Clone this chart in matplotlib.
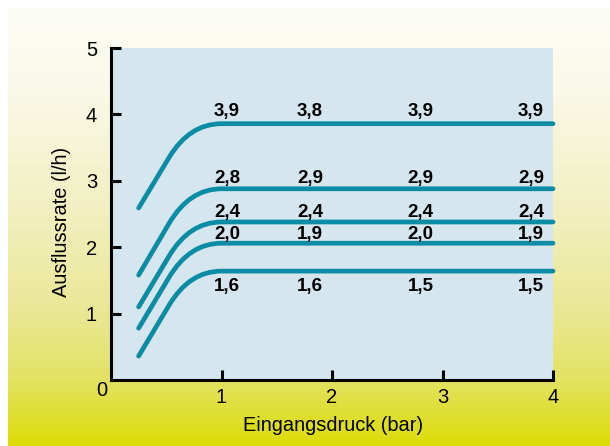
import numpy as np
import matplotlib
matplotlib.use('Agg')
import matplotlib.pyplot as plt
from matplotlib.path import Path
from matplotlib.patches import PathPatch
from matplotlib.colors import LinearSegmentedColormap

plt.rcParams['font.family'] = ['Liberation Sans', 'DejaVu Sans']

# ---- data ----
x_start = 0.25          # first measured inlet pressure (bar)
x_end = 4.0             # last inlet pressure (bar)
curve_start = [2.59, 1.58, 1.10, 0.78, 0.36]     # flow at x_start (l/h)
curve_plateau = [3.86, 2.88, 2.38, 2.06, 1.64]   # flow from ~1 bar on (l/h)
label_x = [1.05, 1.8, 2.8, 3.8]
labels = [
    ["3,9", "3,8", "3,9", "3,9"],
    ["2,8", "2,9", "2,9", "2,9"],
    ["2,4", "2,4", "2,4", "2,4"],
    ["2,0", "1,9", "2,0", "1,9"],
    ["1,6", "1,6", "1,5", "1,5"],
]
x_ticks = [1, 2, 3, 4]
y_ticks = [1, 2, 3, 4, 5]
x_label = "Eingangsdruck (bar)"
y_label = "Ausflussrate (l/h)"

# ---- style ----
W, H, DPI = 610, 446, 100
line_color = '#0a8ca4'
plot_bg = '#d6e6ee'
px = 72.0 / DPI

fig = plt.figure(figsize=(W / DPI, H / DPI), dpi=DPI)
fig.patch.set_facecolor('white')

# gradient background
bg = fig.add_axes([8 / W, 0, 1 - 8 / W, 1 - 8 / H])
bg.set_axis_off()
cmap = LinearSegmentedColormap.from_list('g', [
    (0.0, '#fdfdf8'), (0.2, '#faf8e6'), (0.45, '#f2f0c2'),
    (0.7, '#e9e794'), (0.85, '#e3e262'), (1.0, '#dcdc08')])
grad = np.linspace(0, 1, 256).reshape(-1, 1)
bg.imshow(grad, aspect='auto', cmap=cmap, extent=[0, 1, 0, 1], origin='upper')
bg.set_xlim(0, 1)
bg.set_ylim(0, 1)

ax = fig.add_axes([111 / W, 1 - 380 / H, (553 - 111) / W, (380 - 48) / H])
ax.set_facecolor(plot_bg)
ax.set_xlim(0, 4)
ax.set_ylim(0, 5)
for side in ['top', 'right']:
    ax.spines[side].set_visible(False)
for side in ['left', 'bottom']:
    ax.spines[side].set_linewidth(2.2)
    ax.spines[side].set_color('black')
ax.set_xticks(x_ticks)
ax.set_yticks(y_ticks)
ax.tick_params(axis='both', direction='in', length=10 * px, width=2.2,
               labelsize=14.5, colors='black')
ax.tick_params(axis='x', pad=6)
ax.tick_params(axis='y', pad=10)
ax.annotate('0', xy=(0, 0), xycoords='data', xytext=(-9 * px, -11 * px),
            textcoords='offset points', ha='center', va='center',
            fontsize=14.5, annotation_clip=False)

x_knee = 0.71
x_flat = 1.0
for s, p in zip(curve_start, curve_plateau):
    p0 = np.array([x_start, s])
    c = np.array([x_knee, p])
    e = p0 + 0.6 * (c - p0)
    verts = [tuple(p0), tuple(e), tuple(c), (x_flat, p), (x_end, p)]
    codes = [Path.MOVETO, Path.LINETO, Path.CURVE3, Path.CURVE3, Path.LINETO]
    patch = PathPatch(Path(verts, codes), fill=False, edgecolor=line_color,
                      lw=3.4, capstyle='round', joinstyle='round', clip_on=False,
                      zorder=3)
    ax.add_patch(patch)

row_offsets = [8, 6, 5, 4, -7]
for row, (p, off) in enumerate(zip(curve_plateau, row_offsets)):
    for xi, t in zip(label_x, labels[row]):
        ax.annotate(t, xy=(xi, p), xytext=(0, off * px), textcoords='offset points',
                    ha='center', va='baseline' if off > 0 else 'top',
                    fontsize=13.5, fontweight='bold', zorder=4)

fig.text(333 / W, 1 - 431 / H, x_label, ha='center', va='baseline', fontsize=14.4)
fig.text(71 / W, 1 - 222 / H, y_label, ha='right', va='center', rotation=90,
         fontsize=14.4)

fig.savefig('out.png', dpi=DPI)
